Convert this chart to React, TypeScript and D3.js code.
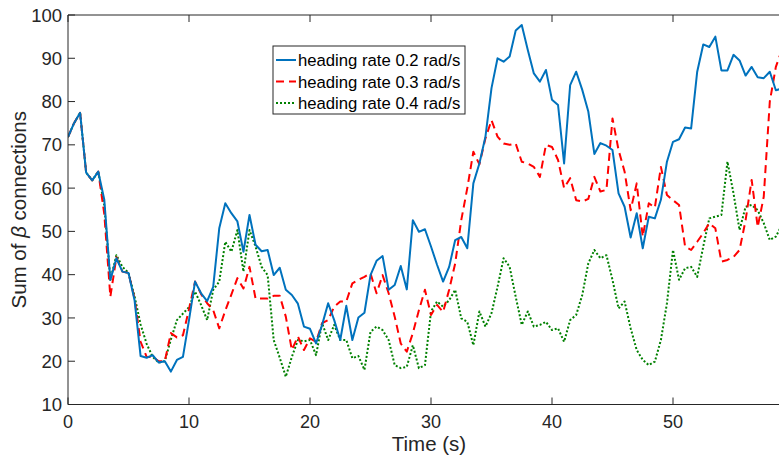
import React from "react";
import * as d3 from "d3";

const TIME_STEP = 0.5;

const rate02: number[] = [
  71.8, 75, 77.4, 63.6, 61.8, 63.8, 57.3, 38.8, 43.8, 40.7,
  40.4, 34.1, 21.2, 20.8, 21.4, 19.7, 20.0, 17.6, 20.3, 21.0,
  29.5, 38.4, 35.7, 33.9, 37.2, 50.7, 56.5, 54.2, 52.3, 45.3,
  53.8, 46.9, 45.4, 45.7, 39.9, 41.6, 36.5, 35.3, 33.3, 28.0,
  27.5, 24.1, 28.4, 33.4, 29.5, 24.9, 32.8, 24.9, 30.1, 31.2,
  39.9, 43.2, 44.3, 36.5, 37.6, 42.0, 36.6, 52.6, 49.9, 50.5,
  46.5, 42.3, 38.4, 41.8, 48.0, 48.7, 46.1, 61.1, 65.7, 71.9,
  83.1, 90.0, 89.2, 90.4, 96.4, 97.7, 91.9, 86.5, 84.6, 87.3,
  80.4, 79.2, 65.7, 83.8, 86.9, 82.7, 77.7, 67.9, 70.4, 69.8,
  68.8, 58.8, 55.7, 48.6, 54.2, 46.1, 53.4, 53.0, 57.3, 66.1,
  70.7, 71.3, 74.0, 73.8, 86.9, 93.2, 92.6, 95.0, 87.2, 87.2,
  90.8, 89.5, 86.0, 88.0, 85.6, 85.4, 86.9, 82.6, 83.0,
];

const rate03: number[] = [
  71.8, 75, 77.4, 63.6, 61.8, 63.8, 54.0, 34.9, 44.0, 40.7,
  40.4, 34.5, 24.5, 21.0, 21.0, 20.0, 20.0, 26.5, 25.5, 26.0,
  32.0, 38.4, 35.5, 33.4, 31.8, 27.6, 31.7, 35.4, 39.2, 36.8,
  41.8, 34.5, 34.5, 34.5, 35.1, 35.1, 30.3, 22.6, 25.7, 22.6,
  25.3, 24.5, 28.8, 29.5, 32.6, 33.8, 33.8, 38.0, 38.8, 39.5,
  40.3, 35.7, 39.9, 35.7, 30.3, 24.1, 22.2, 26.5, 31.8, 36.5,
  30.7, 33.0, 31.4, 36.5, 42.6, 52.6, 60.0, 68.4, 65.5, 71.5,
  75.7, 71.9, 70.3, 70.0, 70.3, 66.1, 65.7, 64.9, 62.6, 70.0,
  69.5, 66.5, 60.0, 62.3, 57.2, 56.9, 57.5, 62.6, 59.2, 59.6,
  76.1, 68.8, 63.8, 54.9, 61.1, 48.8, 56.5, 55.5, 64.9, 58.4,
  57.2, 56.1, 46.5, 45.7, 47.6, 49.6, 51.9, 50.7, 43.0, 43.4,
  44.1, 45.7, 52.6, 61.9, 51.0, 58.0, 80.0, 88.0, 92.0,
];

const rate04: number[] = [
  71.8, 75, 77.4, 63.6, 61.8, 63.8, 56.0, 38.8, 44.5, 41.8,
  40.4, 35.0, 28.5, 24.0, 21.0, 19.7, 20.0, 25.0, 29.5, 31.0,
  32.5, 36.1, 33.0, 29.5, 36.5, 38.4, 47.6, 45.3, 50.3, 40.7,
  50.3, 46.5, 41.8, 39.9, 24.9, 20.8, 16.4, 21.0, 24.9, 24.6,
  24.9, 21.4, 28.8, 24.9, 28.4, 24.9, 24.9, 20.7, 21.2, 18.0,
  26.8, 28.0, 27.2, 24.9, 19.1, 18.4, 18.7, 23.7, 18.4, 19.1,
  31.5, 33.8, 32.6, 34.1, 36.5, 29.9, 29.1, 23.7, 31.5, 28.0,
  31.1, 37.2, 43.8, 41.8, 34.9, 28.4, 31.5, 28.0, 28.4, 29.1,
  27.2, 27.6, 24.5, 29.5, 30.7, 35.3, 42.6, 45.7, 43.8, 44.5,
  38.8, 32.2, 33.8, 27.6, 22.6, 20.3, 19.1, 19.9, 24.9, 33.4,
  45.7, 38.8, 41.5, 41.8, 39.5, 46.5, 53.0, 53.4, 53.8, 66.1,
  58.8, 50.3, 55.7, 56.1, 54.9, 51.9, 48.0, 48.8, 51.5,
];

const seriesNames = ["heading rate 0.2 rad/s", "heading rate 0.3 rad/s", "heading rate 0.4 rad/s"];
const xTicks = [0, 10, 20, 30, 40, 50];
const yTicks = [10, 20, 30, 40, 50, 60, 70, 80, 90, 100];

const W = 779;
const H = 462;
const FONT = "'Liberation Sans', Arial, Helvetica, sans-serif";
const AXIS = "#262626";

export default function App() {
  const left = 68;
  const top = 15;
  const bottom = 404.5;
  const pxPerSec = 12.1;
  const xMax = (rate02.length - 1) * TIME_STEP;
  const x = d3.scaleLinear().domain([0, xMax]).range([left, left + pxPerSec * xMax]);
  const y = d3.scaleLinear().domain([10, 100]).range([bottom, top]);

  const mk = (vals: number[]) =>
    d3
      .line<number>()
      .x((_, i) => x(i * TIME_STEP))
      .y((v) => y(v))(vals) || "";

  const styles = [
    { data: rate02, color: "#0072BD", dash: undefined as string | undefined, width: 2 },
    { data: rate03, color: "#FF0000", dash: "8,5", width: 2 },
    { data: rate04, color: "#008000", dash: "2,2", width: 2 },
  ];

  const tickLen = 7;
  const legX = 273;
  const legY = 46;
  const legW = 192;
  const legH = 68;
  const rowY = [60, 81.5, 103];

  return (
    <svg
      width={W}
      height={H}
      style={{ position: "absolute", left: 0, top: 0, background: "#fff" }}
      fontFamily={FONT}
    >
      <rect x={0} y={0} width={W} height={H} fill="#fff" />
      <defs>
        <clipPath id="plotclip">
          <rect x={left} y={top} width={W - left + 20} height={bottom - top} />
        </clipPath>
      </defs>

      <g clipPath="url(#plotclip)">
        {styles
          .slice()
          .reverse()
          .map((s, i) => (
            <path
              key={i}
              d={mk(s.data)}
              fill="none"
              stroke={s.color}
              strokeWidth={s.width}
              strokeDasharray={s.dash}
              strokeLinejoin="round"
            />
          ))}
      </g>

      <line x1={left} x2={W} y1={bottom} y2={bottom} stroke={AXIS} strokeWidth={1} />
      <line x1={left} x2={W} y1={top} y2={top} stroke={AXIS} strokeWidth={1} />
      <line x1={left} x2={left} y1={top} y2={bottom} stroke={AXIS} strokeWidth={1} />

      {xTicks.map((t) => (
        <g key={"x" + t}>
          <line x1={x(t)} x2={x(t)} y1={bottom} y2={bottom - tickLen} stroke={AXIS} />
          <line x1={x(t)} x2={x(t)} y1={top} y2={top + tickLen} stroke={AXIS} />
          <text x={x(t)} y={428} textAnchor="middle" fontSize={18} fill={AXIS}>
            {t}
          </text>
        </g>
      ))}

      {yTicks.map((t) => (
        <g key={"y" + t}>
          <line x1={left} x2={left + tickLen} y1={y(t)} y2={y(t)} stroke={AXIS} />
          <text x={62} y={y(t)} dy="0.36em" textAnchor="end" fontSize={18.5} fill={AXIS}>
            {t}
          </text>
        </g>
      ))}

      <text x={429} y={451} textAnchor="middle" fontSize={20.5} fill={AXIS}>
        Time (s)
      </text>
      <text
        transform={`translate(26, ${(top + bottom) / 2}) rotate(-90)`}
        textAnchor="middle"
        fontSize={20.5}
        fill={AXIS}
      >
        Sum of <tspan fontStyle="italic">β</tspan> connections
      </text>

      <rect x={legX} y={legY} width={legW} height={legH} fill="#fff" stroke={AXIS} strokeWidth={1} />
      {styles.map((s, i) => (
        <g key={"leg" + i}>
          <line
            x1={276}
            x2={296}
            y1={rowY[i]}
            y2={rowY[i]}
            stroke={s.color}
            strokeWidth={s.width}
            strokeDasharray={s.dash}
          />
          <text x={298} y={rowY[i]} dy="0.36em" fontSize={16.7} fill="#000">
            {seriesNames[i]}
          </text>
        </g>
      ))}
    </svg>
  );
}
